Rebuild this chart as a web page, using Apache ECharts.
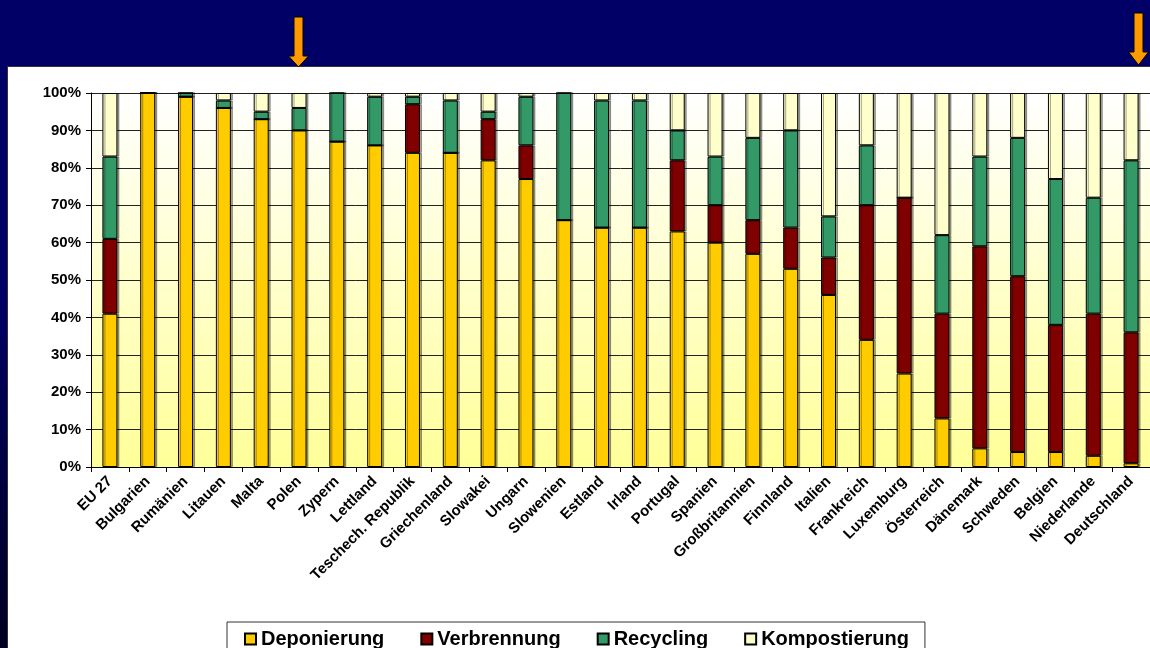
<!DOCTYPE html>
<html>
<head>
<meta charset="utf-8">
<script src="https://cdn.jsdelivr.net/npm/echarts@6/dist/echarts.min.js"></script>
<style>
  html, body { margin: 0; padding: 0; }
  body {
    width: 1150px; height: 648px; overflow: hidden; position: relative;
    background: linear-gradient(to bottom, #000066 0%, #000066 45%, #000022 100%);
  }
  #panel {
    position: absolute; left: 7px; top: 66px; right: 0; bottom: 0;
    background: #ffffff; border-top: 1px solid #333; border-left: 1px solid #333;
  }
  #chart { position: absolute; left: 0; top: 0; width: 1150px; height: 648px; }
</style>
</head>
<body>
<div id="panel"></div>
<div id="chart"></div>
<script>
// Länder (Reihenfolge wie im Original)
var countries = ['EU 27','Bulgarien','Rumänien','Litauen','Malta','Polen','Zypern','Lettland',
  'Teschech. Republik','Griechenland','Slowakei','Ungarn','Slowenien','Estland','Irland','Portugal',
  'Spanien','Großbritannien','Finnland','Italien','Frankreich','Luxemburg','Österreich','Dänemark',
  'Schweden','Belgien','Niederlande','Deutschland'];

// Anteile in %
var deponierung   = [41,100,99,96,93,90,87,86,84,84,82,77,66,64,64,63,60,57,53,46,34,25,13,5,4,4,3,1];
var verbrennung   = [20,0,0,0,0,0,0,0,13,0,11,9,0,0,0,19,10,9,11,10,36,47,28,54,47,34,38,35];
var recycling     = [22,0,1,2,2,6,13,13,2,14,2,13,34,34,34,8,13,22,26,11,16,0,21,24,37,39,31,46];
var kompostierung = [17,0,0,2,5,4,0,1,1,2,5,1,0,2,2,10,17,12,10,33,14,28,38,17,12,23,28,18];

var yTicks = [0,10,20,30,40,50,60,70,80,90,100];

var font = 'Liberation Sans, Arial, sans-serif';

function barSeries(name, data, color) {
  return {
    name: name,
    type: 'bar',
    stack: 'total',
    barWidth: 15,
    data: data,
    itemStyle: {
      color: color,
      borderColor: '#000',
      borderWidth: 1,
      shadowColor: 'rgba(0,0,0,0.35)',
      shadowOffsetX: 2,
      shadowBlur: 0
    }
  };
}

// Pfeil nach unten (Dekoration)
function arrow(cx, y0, y1, tip) {
  return {
    type: 'polygon',
    shape: { points: [
      [cx - 4.5, y0], [cx + 4.5, y0], [cx + 4.5, y1], [cx + 10, y1],
      [cx, tip], [cx - 10, y1], [cx - 4.5, y1]
    ] },
    style: { fill: '#FF9900', stroke: '#000', lineWidth: 1 },
    z: 100
  };
}

var myChart = echarts.init(document.getElementById('chart'), null, { renderer: 'canvas' });
var option = {
  animation: false,
  backgroundColor: 'transparent',
  grid: {
    left: 91, top: 93, width: 1061, height: 374,
    show: true,
    borderWidth: 0,
    backgroundColor: {
      type: 'linear', x: 0, y: 0, x2: 0, y2: 1,
      colorStops: [
        { offset: 0, color: '#FFFFFF' },
        { offset: 1, color: '#FFFF99' }
      ]
    }
  },
  legend: {
    left: 227, top: 622,
    itemWidth: 11, itemHeight: 11, itemGap: 36,
    padding: [7, 16, 14, 17],
    backgroundColor: '#fff',
    borderColor: '#333', borderWidth: 1, borderRadius: 0,
    icon: 'rect',
    textStyle: { fontFamily: font, fontWeight: 'bold', fontSize: 20, color: '#000' },
    data: ['Deponierung','Verbrennung','Recycling','Kompostierung']
  },
  xAxis: {
    type: 'category',
    data: countries,
    boundaryGap: true,
    axisLine: { lineStyle: { color: '#000', width: 1 } },
    axisTick: { show: true, length: 5, interval: 0, lineStyle: { color: '#000' } },
    axisLabel: {
      interval: 0, rotate: 45, margin: 12,
      fontFamily: font, fontWeight: 'bold', fontSize: 15, color: '#000'
    }
  },
  yAxis: {
    type: 'value',
    min: yTicks[0], max: yTicks[yTicks.length - 1], interval: 10,
    axisLine: { show: true, lineStyle: { color: '#000', width: 1 } },
    axisTick: { show: true, length: 5, lineStyle: { color: '#000' } },
    splitLine: { show: true, lineStyle: { color: '#222', width: 1 } },
    axisLabel: {
      margin: 10,
      fontFamily: font, fontWeight: 'bold', fontSize: 15, color: '#000',
      formatter: '{value}%'
    }
  },
  series: [
    barSeries('Deponierung', deponierung, '#FFCC00'),
    barSeries('Verbrennung', verbrennung, '#800000'),
    barSeries('Recycling', recycling, '#339966'),
    barSeries('Kompostierung', kompostierung, '#FFFFCC')
  ],
  graphic: [
    arrow(298.5, 17, 56, 67),
    arrow(1138.5, 13, 52, 65)
  ]
};
myChart.setOption(option);
</script>
</body>
</html>
